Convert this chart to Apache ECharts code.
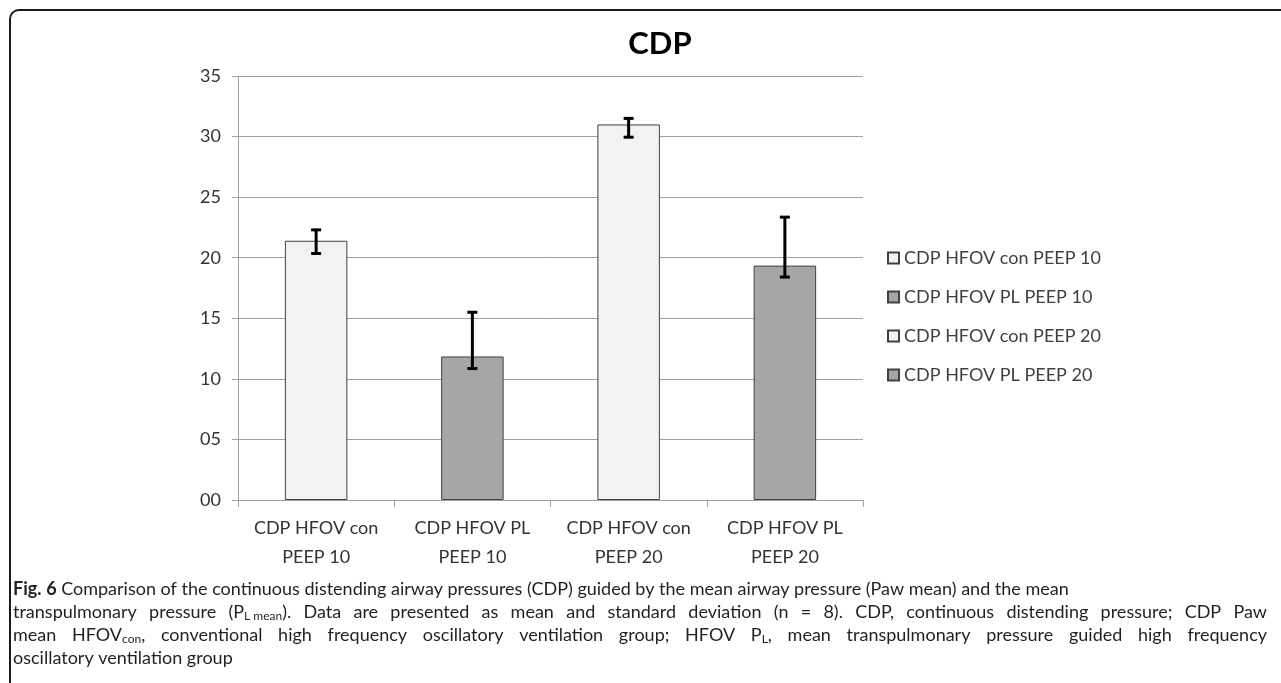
<!DOCTYPE html>
<html>
<head>
<meta charset="utf-8">
<script src="https://cdn.jsdelivr.net/npm/echarts@6/dist/echarts.min.js"></script>
<style>
  html, body { margin: 0; padding: 0; background: #fff; }
  #chart { width: 1281px; height: 683px; }
</style>
</head>
<body>
<div id="chart"></div>
<script>
// Group labels (axis categories) and legend names
const categories = ['CDP HFOV con\nPEEP 10', 'CDP HFOV PL\nPEEP 10', 'CDP HFOV con\nPEEP 20', 'CDP HFOV PL\nPEEP 20'];
const seriesNames = ['CDP HFOV con PEEP 10', 'CDP HFOV PL PEEP 10', 'CDP HFOV con PEEP 20', 'CDP HFOV PL PEEP 20'];
// Mean CDP per group and the ends of its error bar
const means = [21.4, 11.85, 31.0, 19.35];
const errLow = [20.35, 10.85, 29.95, 18.4];
const errHigh = [22.3, 15.5, 31.5, 23.35];
const yTicks = ['00', '05', '10', '15', '20', '25', '30', '35'];

// Figure caption, one entry per printed line; {b|..} bold, {s|..} subscript
const captionLines = [
  '{b|Fig.} {b|6} Comparison of the continuous distending airway pressures (CDP) guided by the mean airway pressure (Paw mean) and the mean',
  'transpulmonary pressure (P{s|L mean}). Data are presented as mean and standard deviation (n = 8). CDP, continuous distending pressure; CDP Paw',
  'mean HFOV{s|con}, conventional high frequency oscillatory ventilation group; HFOV P{s|L}, mean transpulmonary pressure guided high frequency',
  'oscillatory ventilation group'
];
const captionJustify = [false, true, true, false];

const fills = ['#f2f2f2', '#a6a6a6', '#f2f2f2', '#a6a6a6'];
const FONT = 'Lato';
const CAP_SIZE = 18;
const SUB_SIZE = 12;
const CAP_COLOR = '#231f20';

const chart = echarts.init(document.getElementById('chart'), null, { renderer: 'canvas' });

// One bar series per group, stacked so each bar sits centred in its own slot
const barSeries = seriesNames.map((name, i) => ({
  name: name,
  type: 'bar',
  stack: 'cdp',
  barWidth: '40%',
  itemStyle: { color: fills[i], borderColor: '#404040', borderWidth: 1 },
  emphasis: { disabled: true },
  data: categories.map((_, j) => (j === i ? means[i] : '-'))
}));

const errorSeries = {
  type: 'custom',
  name: 'sd',
  z: 5,
  renderItem: function (params, api) {
    const x = api.value(0);
    const lo = api.coord([x, api.value(1)]);
    const hi = api.coord([x, api.value(2)]);
    const cap = 5;
    const style = { stroke: '#000', lineWidth: 3 };
    return {
      type: 'group',
      children: [
        { type: 'line', shape: { x1: lo[0], y1: lo[1], x2: hi[0], y2: hi[1] }, style: style },
        { type: 'line', shape: { x1: hi[0] - cap, y1: hi[1], x2: hi[0] + cap, y2: hi[1] }, style: style },
        { type: 'line', shape: { x1: lo[0] - cap, y1: lo[1], x2: lo[0] + cap, y2: lo[1] }, style: style }
      ]
    };
  },
  encode: { x: 0, y: [1, 2] },
  data: means.map((_, i) => [i, errLow[i], errHigh[i]])
};

// --- caption layout: words are measured so full lines can be justified ---
const measureCtx = document.createElement('canvas').getContext('2d');
function pieceFont(tag) {
  if (tag === 'b') return 'bold ' + CAP_SIZE + 'px ' + FONT;
  if (tag === 's') return SUB_SIZE + 'px ' + FONT;
  return CAP_SIZE + 'px ' + FONT;
}
function wordWidth(word) {
  const re = /\{(\w+)\|([^}]*)\}|([^{]+)/g;
  let m, w = 0;
  while ((m = re.exec(word))) {
    measureCtx.font = pieceFont(m[1] || '');
    w += measureCtx.measureText(m[1] ? m[2] : m[3]).width;
  }
  return w;
}
function splitWords(line) {
  // split on spaces that are not inside a {tag|...} block
  const words = [];
  let cur = '', depth = 0;
  for (const ch of line) {
    if (ch === '{') depth++;
    if (ch === '}') depth--;
    if (ch === ' ' && depth === 0) { if (cur) words.push(cur); cur = ''; }
    else cur += ch;
  }
  if (cur) words.push(cur);
  return words;
}
const richStyles = {
  b: { fontFamily: FONT, fontSize: CAP_SIZE, fontWeight: 'bold', color: CAP_COLOR },
  s: { fontFamily: FONT, fontSize: SUB_SIZE, color: CAP_COLOR, padding: [9, 0, 0, 0] }
};
const CAP_LEFT = 13, CAP_RIGHT = 1267, CAP_TOP = 589, CAP_LINE = 23;
const captionGraphics = [];
captionLines.forEach((line, li) => {
  const words = splitWords(line);
  const widths = words.map(wordWidth);
  measureCtx.font = pieceFont('');
  let gap = measureCtx.measureText(' ').width;
  if (captionJustify[li] && words.length > 1) {
    const total = widths.reduce((a, b) => a + b, 0);
    gap = (CAP_RIGHT - CAP_LEFT - total) / (words.length - 1);
  }
  let x = CAP_LEFT;
  words.forEach((w, wi) => {
    captionGraphics.push({
      type: 'text',
      x: x,
      y: CAP_TOP + li * CAP_LINE,
      silent: true,
      style: {
        text: w,
        font: CAP_SIZE + 'px ' + FONT,
        fill: CAP_COLOR,
        verticalAlign: 'middle',
        align: 'left',
        rich: richStyles
      }
    });
    x += widths[wi] + gap;
  });
});

const option = {
  animation: false,
  backgroundColor: '#ffffff',
  title: {
    text: 'CDP',
    left: 655,
    top: 23,
    textAlign: 'center',
    textStyle: { fontFamily: FONT, fontSize: 31, fontWeight: 'bold', color: '#000' }
  },
  legend: {
    orient: 'vertical',
    left: 887,
    top: 249,
    padding: 0,
    itemWidth: 11,
    itemHeight: 11,
    itemGap: 21,
    icon: 'rect',
    data: seriesNames,
    selectedMode: false,
    textStyle: { fontFamily: FONT, fontSize: 18, color: '#404040', lineHeight: 18 }
  },
  grid: { left: 238, right: 418, top: 76, bottom: 183, containLabel: false },
  xAxis: {
    type: 'category',
    data: categories,
    axisLine: { lineStyle: { color: '#a0a0a0', width: 1 } },
    axisTick: { show: true, length: 7, alignWithLabel: false, lineStyle: { color: '#a0a0a0' } },
    axisLabel: { interval: 0, fontFamily: FONT, fontSize: 18, color: '#333', lineHeight: 29, margin: 14 }
  },
  yAxis: {
    type: 'value',
    min: 0,
    max: 35,
    interval: 5,
    axisLine: { show: true, lineStyle: { color: '#a0a0a0', width: 1 } },
    axisTick: { show: true, length: 6, lineStyle: { color: '#a0a0a0' } },
    axisLabel: {
      fontFamily: FONT, fontSize: 18, color: '#333', margin: 17,
      formatter: function (v) { return yTicks[Math.round(v / 5)]; }
    },
    splitLine: { lineStyle: { color: '#a0a0a0', width: 1 } }
  },
  series: barSeries.concat([errorSeries]),
  graphic: [
    {
      type: 'rect',
      shape: { x: 10, y: 10, width: 1320, height: 720, r: 9 },
      style: { fill: 'none', stroke: '#1a1a1a', lineWidth: 2 },
      silent: true
    }
  ].concat(captionGraphics)
};

chart.setOption(option);
</script>
</body>
</html>
